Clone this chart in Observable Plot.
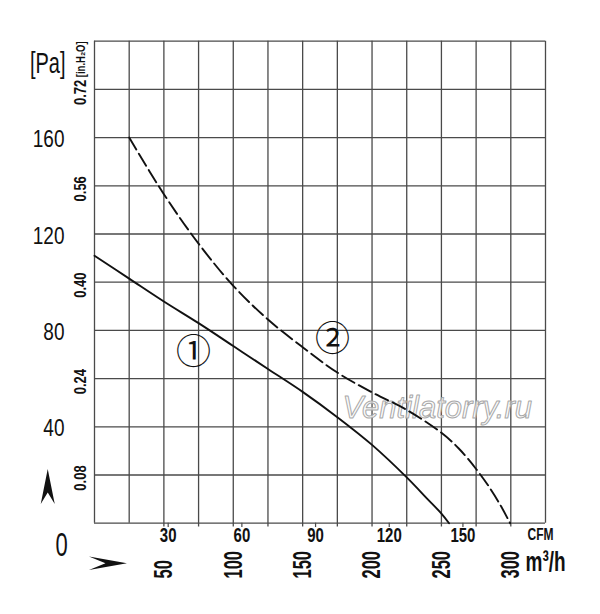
<!DOCTYPE html>
<html><head><meta charset="utf-8">
<script src="https://cdn.jsdelivr.net/npm/d3@7"></script>
<script src="https://cdn.jsdelivr.net/npm/@observablehq/plot@0.6"></script>
<style>html,body{margin:0;padding:0;background:#fff;}</style>
</head><body><div id="chart"></div>
<script>
// Curve 1 (solid): airflow m3/h vs static pressure Pa
const flow1 = [0, 25, 50, 75, 100, 125, 150, 175, 200, 225, 240, 250, 255.5];
const pressure1 = [111, 101.5, 92, 83, 73.5, 64, 54.5, 44, 32.5, 19, 10, 4, 0];
// Curve 2 (dashed)
const flow2 = [25, 50, 75, 100, 125, 150, 175, 200, 225, 250, 262.5, 275, 285, 293, 299.5];
const pressure2 = [160, 136.5, 116, 98.5, 84.5, 73, 62.5, 54.3, 47, 37.5, 31, 22.5, 14.5, 7, 0];

const gridX = [0, 25, 50, 75, 100, 125, 150, 175, 200, 225, 250, 275, 300, 325];
const gridY = [0, 20, 40, 60, 80, 100, 120, 140, 160, 180, 200];
const paTicks = [40, 80, 120, 160];
const inH2OTicks = ["0.08", "0.24", "0.40", "0.56", "0.72"];
const paPerInH2O = 250;
const m3hTicks = [50, 100, 150, 200, 250, 300];
const cfmTicks = [30, 60, 90, 120, 150];
const m3hPerCfm = 1.77;
const curveLabels = ["①", "②"];
const curveLabelX = [71.3, 171.5];
const curveLabelY = [70.7, 76.1];
const watermark = "Ventilatorry.ru";

const line1 = flow1.map((q, i) => ({q, p: pressure1[i]}));
const line2 = flow2.map((q, i) => ({q, p: pressure2[i]}));
const labels = curveLabels.map((t, i) => ({t, x: curveLabelX[i], y: curveLabelY[i]}));

const arrowUp = {draw(c) { c.moveTo(0, -17.5); c.lineTo(7, 17.5); c.lineTo(0, 6); c.lineTo(-7, 17.5); c.closePath(); }};
const arrowRight = {draw(c) { c.moveTo(19, 0); c.lineTo(-19, -6.7); c.lineTo(-2.5, 0); c.lineTo(-19, 6.7); c.closePath(); }};

const FONT = "'Liberation Sans', Arial, sans-serif";
const gridColor = "#4a4a4a";

const chart = Plot.plot({
  width: 600, height: 614,
  marginLeft: 94, marginRight: 55, marginTop: 40.7, marginBottom: 91.3,
  x: {domain: [0, 325], axis: null},
  y: {domain: [0, 200], axis: null},
  style: {fontFamily: FONT, background: "#fff", overflow: "visible"},
  marks: [
    Plot.ruleX(gridX, {x: d => d, y1: d => (d >= 50 && d < 325 ? -1.6 : 0), y2: 200, stroke: gridColor, strokeWidth: 1.3}),
    Plot.ruleY(gridY, {y: d => d, x1: 0, x2: 325, stroke: gridColor, strokeWidth: 1.3}),
    Plot.ruleX(cfmTicks, {x: d => d * m3hPerCfm, y1: 0, y2: -1.8, stroke: gridColor, strokeWidth: 1.2}),
    // watermark
    Plot.text([watermark], {x: 247, y: 47.9, text: d => d, fontSize: 31, fontStyle: "italic",
      fill: "#fafafa", fillOpacity: 0.75, stroke: "#a8a8a8", strokeWidth: 1, paintOrder: "fill"}),
    // curves
    Plot.line(line1, {x: "q", y: "p", stroke: "#111", strokeWidth: 1.9, curve: "catmull-rom"}),
    Plot.line(line2, {x: "q", y: "p", stroke: "#111", strokeWidth: 1.9, curve: "catmull-rom", strokeDasharray: "14,5"}),
    // Pa labels (group 0)
    Plot.text(paTicks, {x: 0, y: d => d, text: d => String(d), dx: -30, dy: 2, textAnchor: "end", fontSize: 19, fill: "#111"}),
    // "0" (group 1)
    Plot.text(["0"], {x: 0, y: 0, text: d => d, dx: -33, dy: 22, textAnchor: "middle", fontSize: 22, fill: "#111"}),
    // [Pa] (group 2)
    Plot.text(["[Pa]"], {x: 0, y: 191, text: d => d, dx: -29, textAnchor: "end", fontSize: 20, fill: "#111"}),
    // in.H2O labels (group 3)
    Plot.text(inH2OTicks, {x: 0, y: d => +d * paPerInH2O, text: d => d, dx: -13.5, dy: 3, rotate: -90, textAnchor: "middle", fontSize: 13, fontWeight: "bold", fill: "#111"}),
    // [in.H2O] (group 4)
    Plot.text(["[in.H₂O]"], {x: 0, y: 192.5, text: d => d, dx: -13.5, rotate: -90, textAnchor: "middle", fontSize: 9.5, fontWeight: "bold", fill: "#111"}),
    // CFM tick labels (group 5)
    Plot.text(cfmTicks, {x: d => d * m3hPerCfm, y: 0, text: d => String(d), dy: 12.5, textAnchor: "middle", fontSize: 15, fontWeight: "bold", fill: "#111"}),
    // CFM unit (group 6)
    Plot.text(["CFM"], {x: 321.4, y: 0, text: d => d, dy: 11.5, textAnchor: "middle", fontSize: 12, fontWeight: "bold", fill: "#111"}),
    // m3/h tick labels (group 7)
    Plot.text(m3hTicks, {x: d => d, y: 0, text: d => String(d), dy: 55.3, rotate: -90, textAnchor: "start", fontSize: 16.5, fontWeight: "bold", fill: "#111"}),
    // m3/h unit (group 8)
    Plot.text(["m³/h"], {x: 310.6, y: 0, text: d => d, dy: 47.5, textAnchor: "start", lineAnchor: "bottom", fontSize: 19, fontWeight: "bold", fill: "#111"}),
    // curve labels (group 9)
    Plot.text(labels, {x: "x", y: "y", text: "t", fontSize: 35, fontFamily: "'Noto Sans CJK JP', 'DejaVu Sans', sans-serif", fill: "#111"}),
    // arrows
    Plot.dot([0], {x: -33.7, y: 15.2, symbol: arrowUp, r: 5, fill: "#111", stroke: "none"}),
    Plot.dot([0], {x: 9.7, y: -16.6, symbol: arrowRight, r: 5, fill: "#111", stroke: "none"})
  ]
});

// Stretch condensed label glyphs vertically (the original lettering is tall and narrow)
const scaleY = [1.25, 1.5, 1.5, 1.2, 1.4, 1.35, 1.4, 1.6, 1.5, 1, 1];
const groups = chart.querySelectorAll('g[aria-label="text"]');
// groups[0] is the watermark
groups.forEach((g, gi) => {
  if (gi === 0) return;
  const s = scaleY[gi - 1];
  if (!s || s === 1) return;
  g.querySelectorAll("text").forEach(t => {
    const tr = t.getAttribute("transform") || "";
    t.setAttribute("transform", tr + ` scale(1,${s})`);
  });
});

document.getElementById("chart").appendChild(chart);
</script>
</body></html>
